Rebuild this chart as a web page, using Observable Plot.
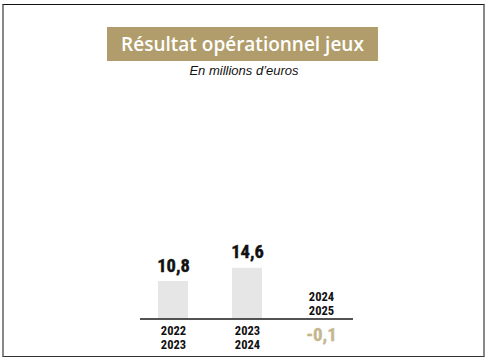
<!DOCTYPE html>
<html><head><meta charset="utf-8">
<script src="https://cdn.jsdelivr.net/npm/d3@7"></script>
<script src="https://cdn.jsdelivr.net/npm/@observablehq/plot@0.6"></script>
<style>
html,body{margin:0;padding:0;background:#fff;}
#wrap{position:relative;width:488px;height:363px;overflow:hidden;}
#frame{position:absolute;left:2px;top:4px;width:479px;height:351px;border-top:1.5px solid #111;border-bottom:1.5px solid #333;border-left:2px solid #888;border-right:2px solid #888;}
#title{position:absolute;left:107px;top:27px;width:271px;height:34px;background:#b19d6b;color:#fff;font-family:"Open Sans",sans-serif;font-weight:600;font-size:19px;line-height:34px;text-align:center;}
#sub{position:absolute;left:0;width:488px;top:63px;text-align:center;font-family:"Liberation Sans",Arial,sans-serif;font-style:italic;font-size:13px;color:#111;}
#chart{position:absolute;left:0;top:0;}
</style></head>
<body><div id="wrap"><div id="frame"></div><div id="title">Résultat opérationnel jeux</div><div id="sub">En millions d’euros</div><div id="chart"></div></div>
<script>
const periods = ["2022\n2023", "2023\n2024", "2024\n2025"];
const values = [10.8, 14.6, -0.1];
const valueLabels = ["10,8", "14,6", "-0,1"];

const data = periods.map((p, i) => ({period: p, value: values[i], label: valueLabels[i]}));
const pos = data.filter(d => d.value >= 0);
const neg = data.filter(d => d.value < 0);
const font = "'Liberation Sans Narrow','Arial Narrow','Roboto Condensed',sans-serif";
const base = 318.5, k = 3.47;

const plot = Plot.plot({
  width: 488, height: 363,
  marginLeft: 140, marginRight: 135, marginTop: 0, marginBottom: 0,
  x: {domain: periods, range: [134.75, 358.25], paddingInner: 0.6, paddingOuter: 0.3, axis: null},
  y: {domain: [-5, 20], range: [base + 5 * k, base - 20 * k], axis: null},
  style: {fontFamily: font, background: "transparent"},
  marks: [
    Plot.barY(data, {x: "period", y: "value", fill: "#e6e6e6"}),
    Plot.ruleY([0], {stroke: "#1a1a1a", strokeWidth: 1.5}),
    Plot.text(pos, {x: "period", y: "value", text: "label", lineAnchor: "bottom", dy: -10, fontSize: 18.5, fontWeight: "bold", fill: "#111", stroke: "#111", strokeWidth: 0.4}),
    Plot.text(neg, {x: "period", y: "value", text: "label", lineAnchor: "top", dy: 8, fontSize: 19, fontWeight: "bold", fill: "#c4b68e", stroke: "#c4b68e", strokeWidth: 0.3}),
    Plot.text(pos, {x: "period", y: 0, text: "period", lineAnchor: "top", dy: 6, lineHeight: 1.1, fontSize: 12.5, fontWeight: "bold", fill: "#111"}),
    Plot.text(neg, {x: "period", y: 0, text: "period", lineAnchor: "bottom", dy: -4, lineHeight: 1.1, fontSize: 12.5, fontWeight: "bold", fill: "#111"})
  ]
});
document.getElementById("chart").appendChild(plot);
</script></body></html>
